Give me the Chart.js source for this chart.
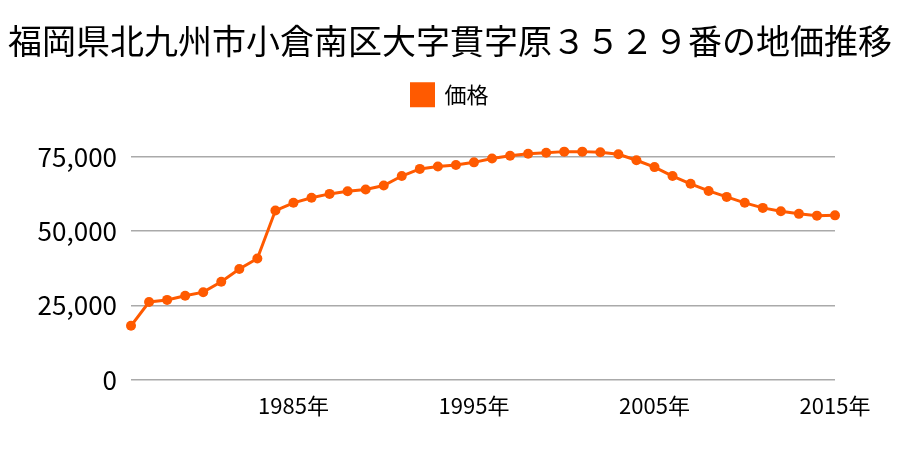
<!DOCTYPE html>
<html>
<head>
<meta charset="utf-8">
<script src="https://cdn.jsdelivr.net/npm/chart.js@4"></script>
<style>
  html, body { margin: 0; padding: 0; background: #fff; }
  #wrap { width: 900px; height: 450px; }
</style>
</head>
<body>
<div id="wrap"><canvas id="landChart"></canvas></div>
<script>
// 年 (1976〜2015)
const years = [];
for (let y = 1976; y <= 2015; y++) years.push(y);

// 価格 (円/m²) グラフから読み取り
const prices = [
    18200, 26200, 26900, 28300, 29500, 33000, 37300, 40800, 56900, 59500,
    61200, 62500, 63400, 64000, 65300, 68500, 70900, 71700, 72200, 73100,
    74400, 75300, 76000, 76300, 76700, 76700, 76500, 75800, 73800, 71500,
    68500, 65900, 63500, 61500, 59500, 57800, 56700, 55800, 55200, 55300
];

// 表示する目盛り
const yTicks = [0, 25000, 50000, 75000];
const xTickYears = [1985, 1995, 2005, 2015];

const orange = '#ff5a00';
const fontFamily = '"Noto Sans CJK JP", "Noto Sans", sans-serif';

// 凡例の下に余白を追加
const legendGap = {
    id: 'legendGap',
    beforeInit(chart) {
        const fit = chart.legend.fit;
        chart.legend.fit = function () {
            fit.bind(chart.legend)();
            this.height += 26;
        };
    }
};

const ctx = document.getElementById('landChart').getContext('2d');
new Chart(ctx, {
    type: 'line',
    data: {
        labels: years,
        datasets: [{
            label: '価格',
            data: prices,
            borderColor: orange,
            backgroundColor: orange,
            borderWidth: 3,
            pointRadius: 5,
            pointBackgroundColor: orange,
            pointBorderWidth: 0,
            tension: 0
        }]
    },
    options: {
        responsive: true,
        maintainAspectRatio: false,
        animation: false,
        layout: { padding: { left: 0, right: 0, top: 0, bottom: 25 } },
        plugins: {
            title: {
                display: true,
                text: '福岡県北九州市小倉南区大字貫字原３５２９番の地価推移',
                color: '#000',
                font: { family: fontFamily, size: 34, weight: 'normal' },
                padding: { top: 21, bottom: 12 }
            },
            legend: {
                display: true,
                labels: {
                    color: '#000',
                    boxWidth: 22,
                    boxHeight: 22,
                    font: { family: fontFamily, size: 22 }
                }
            },
            tooltip: { enabled: false }
        },
        scales: {
            x: {
                grid: { display: false },
                border: { display: false },
                afterFit: function (scale) {
                    scale.height = 45;
                },
                ticks: {
                    autoSkip: false,
                    maxRotation: 0,
                    padding: 4,
                    color: '#000',
                    font: { family: fontFamily, size: 22 },
                    callback: function (value, index) {
                        const yr = years[index];
                        return xTickYears.includes(yr) ? yr + '年' : '';
                    }
                }
            },
            y: {
                min: 0,
                max: 80000,
                border: { display: false },
                grid: { color: '#aaaaaa', drawTicks: false, lineWidth: 1.5 },
                afterBuildTicks: function (scale) {
                    scale.ticks = yTicks.map(v => ({ value: v }));
                },
                afterFit: function (scale) {
                    scale.width = 131;
                },
                ticks: {
                    padding: 14,
                    color: '#000',
                    font: { family: fontFamily, size: 26 },
                    callback: function (value) {
                        return value.toString().replace(/\B(?=(\d{3})+(?!\d))/g, ',');
                    }
                }
            },
            // 右側の余白用 (表示なし)
            yRight: {
                position: 'right',
                display: true,
                grid: { display: false },
                border: { display: false },
                ticks: { display: false },
                afterFit: function (scale) {
                    scale.width = 65;
                }
            }
        }
    },
    plugins: [legendGap]
});
</script>
</body>
</html>
